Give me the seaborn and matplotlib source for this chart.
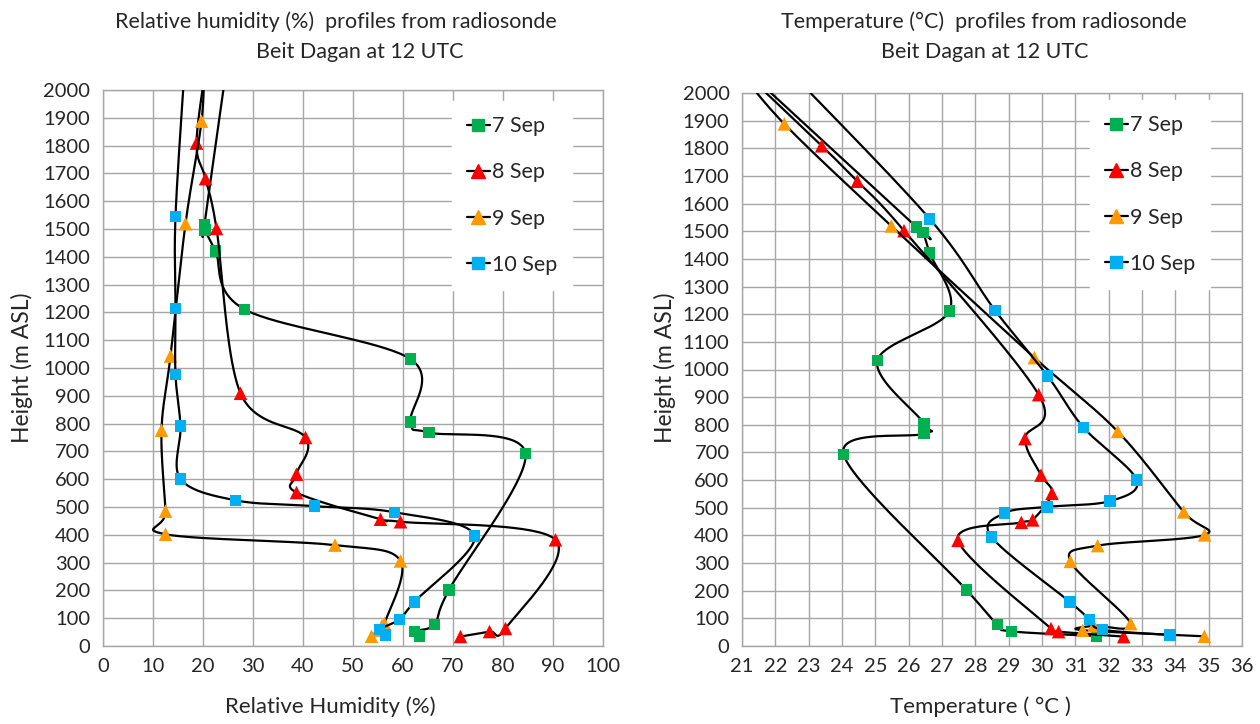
import numpy as np
import matplotlib
matplotlib.use("Agg")
import matplotlib.pyplot as plt
from matplotlib.lines import Line2D
import seaborn as sns

# ---------------- data ----------------
series_names = ["7 Sep", "8 Sep", "9 Sep", "10 Sep"]

green_h = [36, 53, 78, 202, 692, 768, 805, 1032, 1211, 1421, 1496, 1516, 2080]
green_rh = [63.3, 62.3, 66.3, 69.2, 84.5, 65.2, 61.5, 61.5, 28.3, 22.5, 20.4, 20.3, 24.7]
green_t = [31.64, 29.08, 28.66, 27.74, 24.05, 26.46, 26.46, 25.06, 27.22, 26.63, 26.43, 26.23, 21.15]

red_h = [34, 52, 63, 382, 447, 456, 552, 618, 750, 909, 1502, 1681, 1809, 2100]
red_rh = [71.5, 77.3, 80.5, 90.5, 59.5, 55.5, 38.7, 38.7, 40.5, 27.5, 22.7, 20.5, 18.7, 20.7]
red_t = [32.45, 30.5, 30.27, 27.48, 29.38, 29.72, 30.3, 29.97, 29.49, 29.9, 25.86, 24.46, 23.39, 20.85]

orange_h = [35, 57, 73, 81, 306, 363, 402, 485, 776, 1043, 1519, 1888, 2100]
orange_rh = [53.7, 55.0, 55.8, 56.3, 59.5, 46.4, 12.5, 12.5, 11.7, 13.5, 16.5, 19.7, 20.2]
orange_t = [34.87, 31.22, 31.55, 32.66, 30.85, 31.67, 34.88, 34.25, 32.27, 29.77, 25.48, 22.27, 20.8]

blue_h = [40, 59, 96, 159, 395, 481, 503, 524, 601, 791, 976, 1214, 1545, 2100]
blue_rh = [56.5, 55.3, 59.3, 62.3, 74.3, 58.3, 42.3, 26.5, 15.5, 15.5, 14.5, 14.5, 14.5, 16.4]
blue_t = [33.84, 31.81, 31.43, 30.84, 28.48, 28.88, 30.15, 32.04, 32.84, 31.24, 30.17, 28.59, 26.63, 22.25]

rh_ticks = list(range(0, 101, 10))
t_ticks = list(range(21, 37))
h_ticks = list(range(0, 2001, 100))

# ---------------- style ----------------
colors = ["#00B050", "#FF0000", "#FF9900", "#00B0F0"]
markers = ["s", "^", "^", "s"]
msizes = [68, 95, 95, 68]

sns.set_style("white")
plt.rcParams["font.family"] = ["Lato", "DejaVu Sans"]
plt.rcParams["text.color"] = "#262626"

W, H = 1260, 724
fig = plt.figure(figsize=(W / 100, H / 100), dpi=100)


def fpx(x0, y0, x1, y1):
    return [x0 / W, 1 - y1 / H, (x1 - x0) / W, (y1 - y0) / H]


axL = fig.add_axes(fpx(103, 90, 603, 646))
axR = fig.add_axes(fpx(742, 93, 1242, 646))


def smooth(xs, ys, sx, sy, n=40):
    P = np.column_stack([np.asarray(xs, float) * sx, np.asarray(ys, float) * sy])
    N = len(P)
    out = []
    t = np.linspace(0, 1, n)[:, None]
    for i in range(N - 1):
        p0 = P[max(i - 1, 0)]
        p1 = P[i]
        p2 = P[i + 1]
        p3 = P[min(i + 2, N - 1)]
        c1 = p1 + (p2 - p0) / 6.0
        c2 = p2 - (p3 - p1) / 6.0
        seg = (1 - t) ** 3 * p1 + 3 * (1 - t) ** 2 * t * c1 + 3 * (1 - t) * t ** 2 * c2 + t ** 3 * p2
        out.append(seg if i == 0 else seg[1:])
    B = np.vstack(out)
    return B[:, 0] / sx, B[:, 1] / sy


heights = [green_h, red_h, orange_h, blue_h]
rh_vals = [green_rh, red_rh, orange_rh, blue_rh]
t_vals = [green_t, red_t, orange_t, blue_t]

panels = [
    (axL, rh_vals, (0, 100), rh_ticks, 5.0, 0.278),
    (axR, t_vals, (21, 36), t_ticks, 33.33, 0.2765),
]

for ax, vals, xlim, xticks, sx, sy in panels:
    for k in range(4):
        xs, ys = smooth(vals[k], heights[k], sx, sy)
        sns.lineplot(x=xs, y=ys, sort=False, estimator=None, color="black",
                     lw=1.6, ax=ax, zorder=3 + 2 * k)
        sns.scatterplot(x=vals[k], y=heights[k], marker=markers[k], s=msizes[k],
                        color=colors[k], edgecolor="none", linewidth=0, ax=ax,
                        zorder=4 + 2 * k)
    ax.set_xlim(*xlim)
    ax.set_ylim(0, 2000)
    ax.set_xticks(xticks)
    ax.set_yticks(h_ticks)
    ax.grid(True, color="#A6A6A6", lw=1.0)
    ax.set_axisbelow(True)
    for sp in ax.spines.values():
        sp.set_color("#A6A6A6")
        sp.set_linewidth(1.0)
    ax.tick_params(axis="both", which="major", direction="out", length=5,
                   color="#A6A6A6", width=1.0, labelsize=14.5, labelcolor="#262626", pad=4)
    ax.set_xlabel("")
    ax.set_ylabel("")

# legends
handles = [Line2D([0], [0], color="black", lw=1.6, marker=markers[k],
                  markerfacecolor=colors[k], markeredgecolor=colors[k],
                  markersize=8.5 if markers[k] == "s" else 10) for k in range(4)]
for ax, (lx, ly) in [(axL, (452, 101)), (axR, (1090, 100))]:
    leg = ax.legend(handles, series_names, loc="upper left",
                    bbox_to_anchor=(lx / W, 1 - ly / H), bbox_transform=fig.transFigure,
                    handlelength=1.05, handletextpad=0.1, labelspacing=1.22,
                    borderpad=0.7, borderaxespad=0, fontsize=15.5, frameon=True,
                    fancybox=False, framealpha=1, facecolor="white", edgecolor="white")
    leg.set_zorder(20)

# titles and labels
fs_title = 15.5
fig.text(336 / W, 1 - 22 / H, "Relative humidity (%)  profiles from radiosonde",
         ha="center", va="center", fontsize=fs_title)
fig.text(360 / W, 1 - 52 / H, "Beit Dagan at 12 UTC", ha="center", va="center", fontsize=fs_title)
fig.text(984 / W, 1 - 22 / H, "Temperature (\u00b0C)  profiles from radiosonde",
         ha="center", va="center", fontsize=fs_title)
fig.text(985 / W, 1 - 52 / H, "Beit Dagan at 12 UTC", ha="center", va="center", fontsize=fs_title)

fig.text(330 / W, 1 - 707 / H, "Relative Humidity (%)", ha="center", va="center", fontsize=16)
fig.text(980 / W, 1 - 707 / H, "Temperature ( \u00b0C )", ha="center", va="center", fontsize=16)
fig.text(22 / W, 1 - 368 / H, "Height (m ASL)", ha="center", va="center", rotation=90, fontsize=16.5)
fig.text(665 / W, 1 - 368 / H, "Height (m ASL)", ha="center", va="center", rotation=90, fontsize=16.5)

fig.savefig("out.png", dpi=100)
